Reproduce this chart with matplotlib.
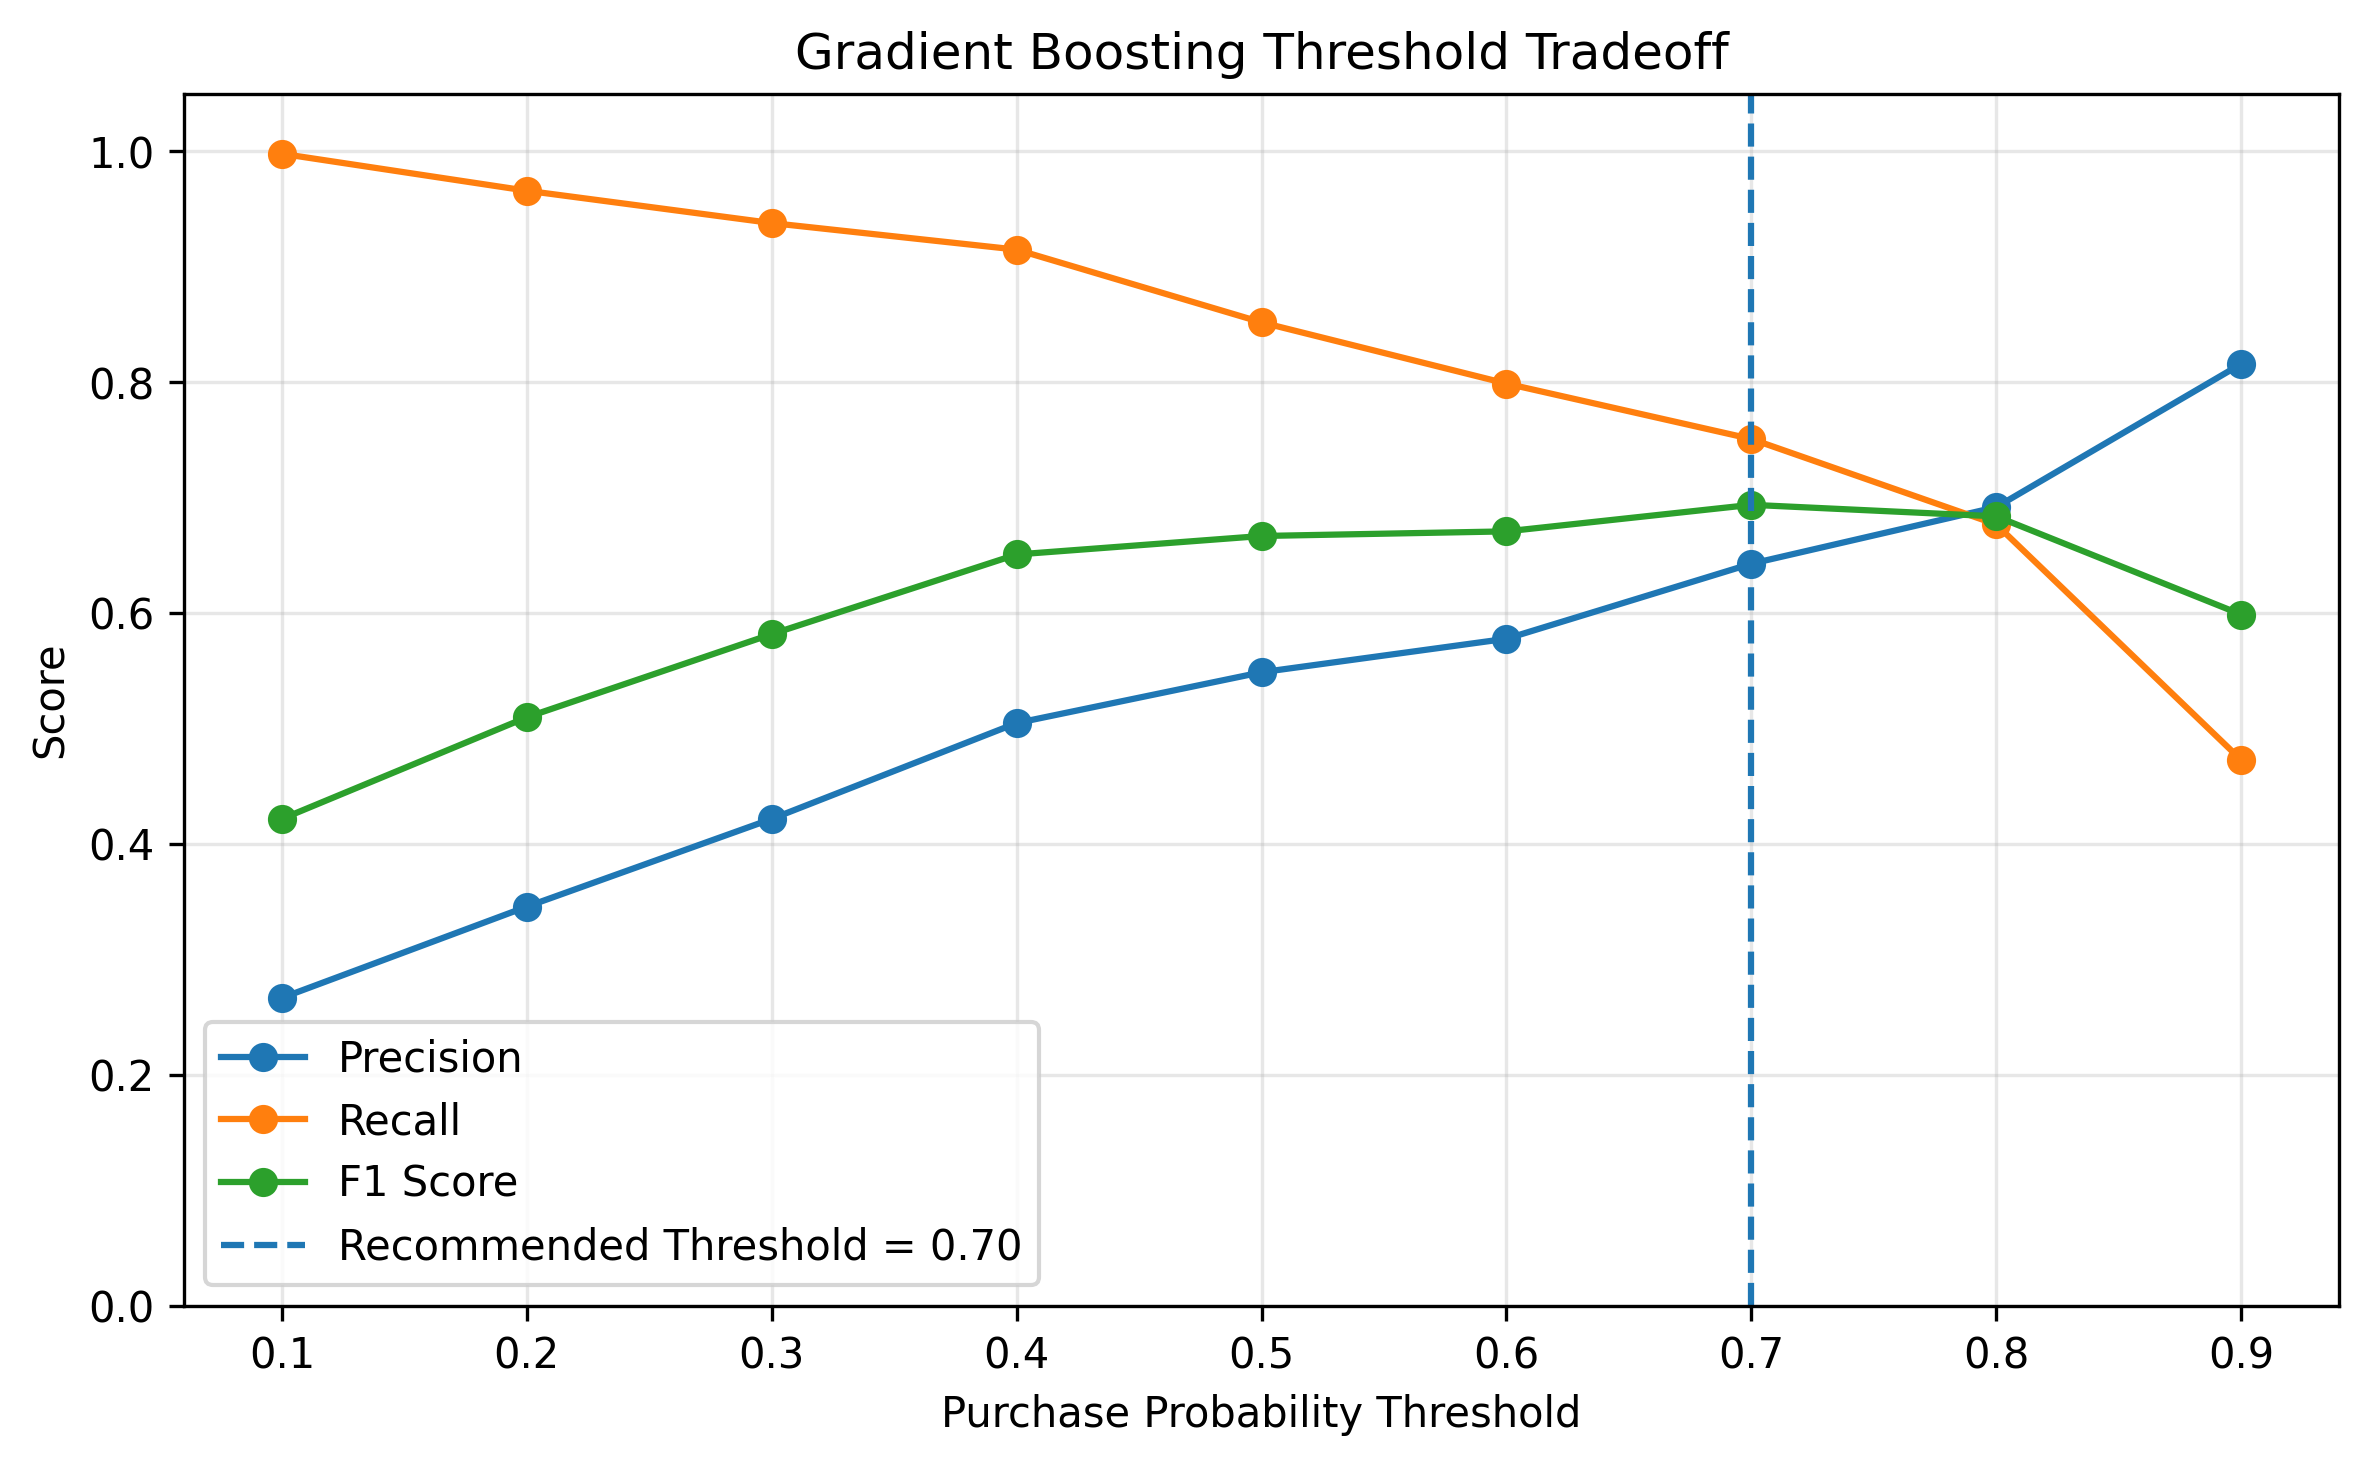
import matplotlib
matplotlib.use("Agg")
import matplotlib.pyplot as plt

# thresholds and scores
thresholds = [0.1, 0.2, 0.3, 0.4, 0.5, 0.6, 0.7, 0.8, 0.9]
precision = [0.267, 0.346, 0.422, 0.505, 0.549, 0.578, 0.643, 0.692, 0.816]
recall = [0.998, 0.966, 0.938, 0.915, 0.852, 0.799, 0.751, 0.677, 0.473]
f1 = [0.422, 0.510, 0.582, 0.651, 0.667, 0.671, 0.694, 0.684, 0.599]
best_threshold = 0.70

fig, ax = plt.subplots(figsize=(7.9, 4.887), dpi=300)
fig.subplots_adjust(left=0.0776, right=0.987, top=0.936, bottom=0.109)

ax.plot(thresholds, precision, marker='o', label='Precision')
ax.plot(thresholds, recall, marker='o', label='Recall')
ax.plot(thresholds, f1, marker='o', label='F1 Score')
ax.axvline(best_threshold, linestyle='--', color='C0',
           label=f'Recommended Threshold = {best_threshold:.2f}')

ax.set_ylim(0, 1.05)
ax.set_xticks(thresholds)
ax.set_title('Gradient Boosting Threshold Tradeoff')
ax.set_xlabel('Purchase Probability Threshold')
ax.set_ylabel('Score')
ax.grid(True, alpha=0.3)
ax.legend(loc='lower left')

fig.savefig('out.png', dpi=300)
